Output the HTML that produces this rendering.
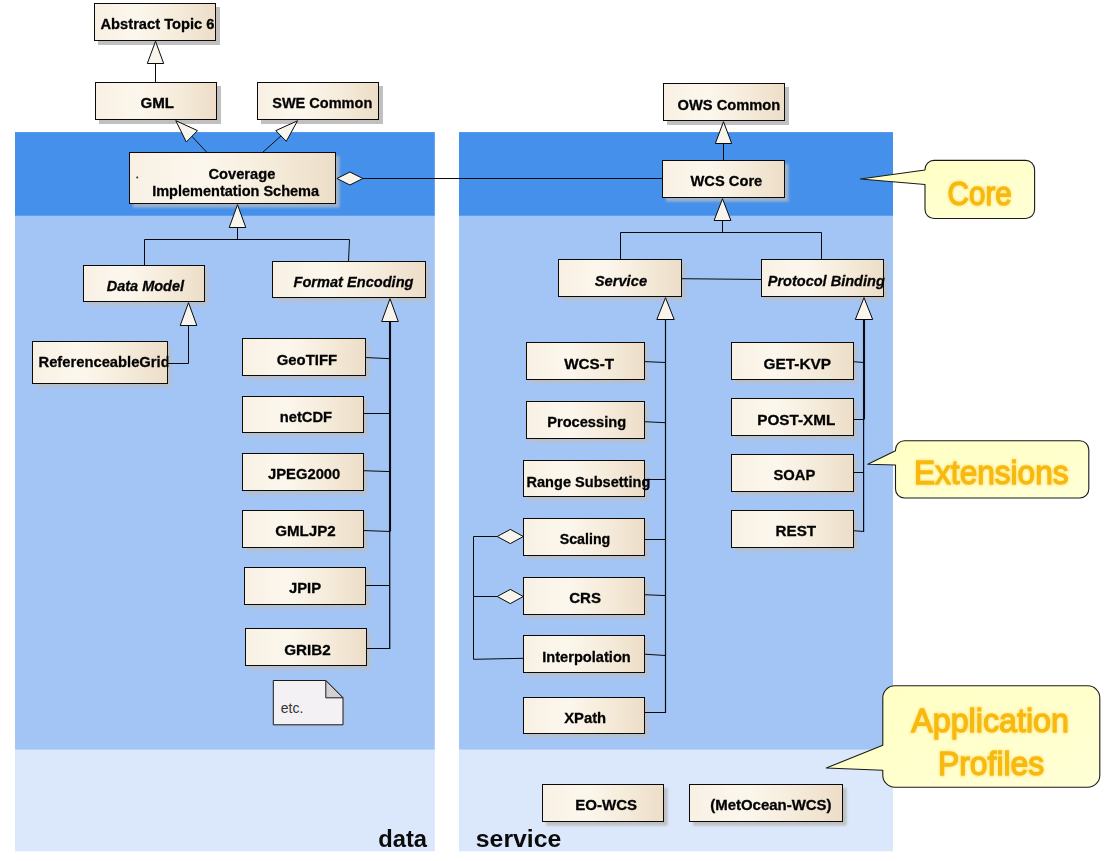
<!DOCTYPE html>
<html><head><meta charset="utf-8"><title>WCS</title>
<style>html,body{margin:0;padding:0;background:#fff;}svg{display:block;}text{font-family:"Liberation Sans",sans-serif;}.b{font-weight:bold;font-size:15.5px;fill:#000;stroke:#000;stroke-width:0.3;}.bi{font-weight:bold;font-style:italic;font-size:15.5px;fill:#000;stroke:#000;stroke-width:0.3;}.ln{stroke:#0a0a0a;stroke-width:1;fill:none;}.tri{stroke:#0a0a0a;stroke-width:1;fill:#f7f5ec;stroke-linejoin:miter;}.co{font-size:33.4px;fill:#f7b910;stroke:#f7b910;stroke-width:1.3;paint-order:stroke;stroke-linejoin:round;}</style></head><body>
<svg width="1109" height="861" viewBox="0 0 1109 861">
<defs>
<linearGradient id="bx" x1="0" y1="0" x2="1" y2="0"><stop offset="0" stop-color="#f8f0e3"/><stop offset="0.35" stop-color="#fcf7ed"/><stop offset="0.7" stop-color="#f5ebda"/><stop offset="1" stop-color="#ecddc7"/></linearGradient>
<linearGradient id="cl" x1="0" y1="0" x2="1" y2="1"><stop offset="0" stop-color="#ffffc2"/><stop offset="1" stop-color="#ffffd6"/></linearGradient>
<filter id="sh" x="-10%" y="-10%" width="130%" height="140%"><feGaussianBlur stdDeviation="0.9"/></filter>
<filter id="glow" x="-10%" y="-20%" width="120%" height="140%"><feGaussianBlur stdDeviation="1.2"/></filter>
</defs>
<rect width="1109" height="861" fill="#ffffff"/>
<rect x="15.0" y="132.1" width="419.8" height="83.8" fill="#4590ea"/>
<rect x="15.0" y="215.9" width="419.8" height="533.9" fill="#a3c5f6"/>
<rect x="15.0" y="749.8" width="419.8" height="101.5" fill="#dbe8fb"/>
<rect x="459.0" y="132.1" width="434.0" height="83.8" fill="#4590ea"/>
<rect x="459.0" y="215.9" width="434.0" height="533.9" fill="#a3c5f6"/>
<rect x="459.0" y="749.8" width="434.0" height="101.5" fill="#dbe8fb"/>
<rect x="98.0" y="7.0" width="122.0" height="38.0" fill="#c0c0c0"/>
<rect x="94.5" y="3.5" width="121.0" height="37.0" fill="url(#bx)" stroke="#0a0a0a" stroke-width="1"/>
<rect x="99.0" y="86.0" width="122.0" height="38.0" fill="#c0c0c0"/>
<rect x="95.5" y="82.5" width="121.0" height="37.0" fill="url(#bx)" stroke="#0a0a0a" stroke-width="1"/>
<rect x="261.0" y="86.0" width="122.0" height="38.0" fill="#c0c0c0"/>
<rect x="257.5" y="82.5" width="121.0" height="37.0" fill="url(#bx)" stroke="#0a0a0a" stroke-width="1"/>
<rect x="133.0" y="156.0" width="206.6" height="51.6" fill="#bebebe" opacity="0.72" filter="url(#sh)"/>
<rect x="129.5" y="152.5" width="206.0" height="51.0" fill="url(#bx)" stroke="#0a0a0a" stroke-width="1"/>
<rect x="87.0" y="269.0" width="121.6" height="36.6" fill="#bebebe" opacity="0.72" filter="url(#sh)"/>
<rect x="83.5" y="265.5" width="121.0" height="36.0" fill="url(#bx)" stroke="#0a0a0a" stroke-width="1"/>
<rect x="276.0" y="265.0" width="153.6" height="36.6" fill="#bebebe" opacity="0.72" filter="url(#sh)"/>
<rect x="272.5" y="261.5" width="153.0" height="36.0" fill="url(#bx)" stroke="#0a0a0a" stroke-width="1"/>
<rect x="36.0" y="345.0" width="135.6" height="42.6" fill="#bebebe" opacity="0.72" filter="url(#sh)"/>
<rect x="32.5" y="341.5" width="135.0" height="42.0" fill="url(#bx)" stroke="#0a0a0a" stroke-width="1"/>
<rect x="246.0" y="342.0" width="123.6" height="37.6" fill="#bebebe" opacity="0.72" filter="url(#sh)"/>
<rect x="242.5" y="338.5" width="123.0" height="37.0" fill="url(#bx)" stroke="#0a0a0a" stroke-width="1"/>
<rect x="246.0" y="400.0" width="121.6" height="36.6" fill="#bebebe" opacity="0.72" filter="url(#sh)"/>
<rect x="242.5" y="396.5" width="121.0" height="36.0" fill="url(#bx)" stroke="#0a0a0a" stroke-width="1"/>
<rect x="246.0" y="457.0" width="121.6" height="37.6" fill="#bebebe" opacity="0.72" filter="url(#sh)"/>
<rect x="242.5" y="453.5" width="121.0" height="37.0" fill="url(#bx)" stroke="#0a0a0a" stroke-width="1"/>
<rect x="246.0" y="514.0" width="121.6" height="37.6" fill="#bebebe" opacity="0.72" filter="url(#sh)"/>
<rect x="242.5" y="510.5" width="121.0" height="37.0" fill="url(#bx)" stroke="#0a0a0a" stroke-width="1"/>
<rect x="248.0" y="571.0" width="121.6" height="37.6" fill="#bebebe" opacity="0.72" filter="url(#sh)"/>
<rect x="244.5" y="567.5" width="121.0" height="37.0" fill="url(#bx)" stroke="#0a0a0a" stroke-width="1"/>
<rect x="249.0" y="632.0" width="121.6" height="37.6" fill="#bebebe" opacity="0.72" filter="url(#sh)"/>
<rect x="245.5" y="628.5" width="121.0" height="37.0" fill="url(#bx)" stroke="#0a0a0a" stroke-width="1"/>
<rect x="667.0" y="87.0" width="122.0" height="38.0" fill="#c0c0c0"/>
<rect x="663.5" y="83.5" width="121.0" height="37.0" fill="url(#bx)" stroke="#0a0a0a" stroke-width="1"/>
<rect x="666.0" y="164.0" width="122.6" height="37.6" fill="#bebebe" opacity="0.72" filter="url(#sh)"/>
<rect x="662.5" y="160.5" width="122.0" height="37.0" fill="url(#bx)" stroke="#0a0a0a" stroke-width="1"/>
<rect x="562.0" y="263.0" width="123.6" height="37.6" fill="#bebebe" opacity="0.72" filter="url(#sh)"/>
<rect x="558.5" y="259.5" width="123.0" height="37.0" fill="url(#bx)" stroke="#0a0a0a" stroke-width="1"/>
<rect x="765.0" y="263.0" width="122.6" height="37.6" fill="#bebebe" opacity="0.72" filter="url(#sh)"/>
<rect x="761.5" y="259.5" width="122.0" height="37.0" fill="url(#bx)" stroke="#0a0a0a" stroke-width="1"/>
<rect x="530.0" y="346.0" width="118.6" height="37.6" fill="#bebebe" opacity="0.72" filter="url(#sh)"/>
<rect x="526.5" y="342.5" width="118.0" height="37.0" fill="url(#bx)" stroke="#0a0a0a" stroke-width="1"/>
<rect x="530.0" y="405.0" width="118.6" height="37.6" fill="#bebebe" opacity="0.72" filter="url(#sh)"/>
<rect x="526.5" y="401.5" width="118.0" height="37.0" fill="url(#bx)" stroke="#0a0a0a" stroke-width="1"/>
<rect x="527.0" y="464.0" width="121.6" height="36.6" fill="#bebebe" opacity="0.72" filter="url(#sh)"/>
<rect x="523.5" y="460.5" width="121.0" height="36.0" fill="url(#bx)" stroke="#0a0a0a" stroke-width="1"/>
<rect x="527.0" y="522.0" width="121.6" height="37.6" fill="#bebebe" opacity="0.72" filter="url(#sh)"/>
<rect x="523.5" y="518.5" width="121.0" height="37.0" fill="url(#bx)" stroke="#0a0a0a" stroke-width="1"/>
<rect x="527.0" y="581.0" width="121.6" height="37.6" fill="#bebebe" opacity="0.72" filter="url(#sh)"/>
<rect x="523.5" y="577.5" width="121.0" height="37.0" fill="url(#bx)" stroke="#0a0a0a" stroke-width="1"/>
<rect x="527.0" y="639.0" width="121.6" height="37.6" fill="#bebebe" opacity="0.72" filter="url(#sh)"/>
<rect x="523.5" y="635.5" width="121.0" height="37.0" fill="url(#bx)" stroke="#0a0a0a" stroke-width="1"/>
<rect x="527.0" y="701.0" width="121.6" height="36.6" fill="#bebebe" opacity="0.72" filter="url(#sh)"/>
<rect x="523.5" y="697.5" width="121.0" height="36.0" fill="url(#bx)" stroke="#0a0a0a" stroke-width="1"/>
<rect x="735.0" y="346.0" width="122.6" height="37.6" fill="#bebebe" opacity="0.72" filter="url(#sh)"/>
<rect x="731.5" y="342.5" width="122.0" height="37.0" fill="url(#bx)" stroke="#0a0a0a" stroke-width="1"/>
<rect x="735.0" y="402.0" width="122.6" height="37.6" fill="#bebebe" opacity="0.72" filter="url(#sh)"/>
<rect x="731.5" y="398.5" width="122.0" height="37.0" fill="url(#bx)" stroke="#0a0a0a" stroke-width="1"/>
<rect x="735.0" y="458.0" width="122.6" height="37.6" fill="#bebebe" opacity="0.72" filter="url(#sh)"/>
<rect x="731.5" y="454.5" width="122.0" height="37.0" fill="url(#bx)" stroke="#0a0a0a" stroke-width="1"/>
<rect x="735.0" y="514.0" width="122.6" height="37.6" fill="#bebebe" opacity="0.72" filter="url(#sh)"/>
<rect x="731.5" y="510.5" width="122.0" height="37.0" fill="url(#bx)" stroke="#0a0a0a" stroke-width="1"/>
<rect x="546.0" y="788.0" width="121.6" height="37.6" fill="#bebebe" opacity="0.95" filter="url(#sh)"/>
<rect x="542.5" y="784.5" width="121.0" height="37.0" fill="url(#bx)" stroke="#0a0a0a" stroke-width="1"/>
<rect x="693.0" y="788.0" width="153.6" height="37.6" fill="#bebebe" opacity="0.95" filter="url(#sh)"/>
<rect x="689.5" y="784.5" width="153.0" height="37.0" fill="url(#bx)" stroke="#0a0a0a" stroke-width="1"/>
<path d="M275.8 683 L328.3 683 L345.5 700.3 L345.5 727.3 L275.8 727.3 Z" fill="#bcbcbc" opacity="0.3" filter="url(#sh)"/>
<path d="M273.3 680.5 L325.8 680.5 L343 697.8 L343 724.8 L273.3 724.8 Z" fill="#f4f1f4" stroke="#1a1a1a" stroke-width="1"/>
<path d="M325.8 680.5 L325.8 697.8 L343 697.8 Z" fill="#d2d0d2" stroke="#1a1a1a" stroke-width="1"/>
<text x="280.8" y="713" style="font-size:14.2px;fill:#333" textLength="22.5" lengthAdjust="spacingAndGlyphs">etc.</text>
<path class="ln" d="M155.5 63.5 L155.5 82.5"/>
<path class="tri" d="M155.5 41.3 L163.7 63.5 L147.3 63.5 Z"/>
<path class="ln" d="M207 152.5 L191.9 136.3"/>
<path class="tri" d="M175.8 120.7 L197.5 130.6 L186.3 142 Z"/>
<path class="ln" d="M262.5 152.5 L281 135.9"/>
<path class="tri" d="M297.5 120.8 L286.3 141.3 L275.8 130.6 Z"/>
<path class="tri" d="M336.9 178.5 L349.9 172.0 L362.9 178.5 L349.9 185.0 Z"/>
<path class="ln" d="M362.9 178.5 L662.5 178.5"/>
<path class="tri" d="M237.5 204.7 L245.8 227.5 L229.2 227.5 Z"/>
<path class="ln" d="M237.5 227.5 L237.5 239.5"/>
<path class="ln" d="M144.5 265.5 L144.5 239.5 L349.5 239.5 L348.5 261.5"/>
<path class="tri" d="M188.5 302.7 L196.8 325.5 L180.2 325.5 Z"/>
<path class="ln" d="M188.5 325.5 L188.5 363.5 L167.5 363.5"/>
<path class="tri" d="M390 298.7 L398.3 321.5 L381.7 321.5 Z"/>
<path class="ln" d="M390 321.5 L390 531.5" style="stroke-width:2.1"/>
<path class="ln" d="M389.7 531 L389.7 649" style="stroke-width:1.3"/>
<path class="ln" d="M365.5 357.5 L390 358.7"/>
<path class="ln" d="M363.5 413.5 L390 413.5"/>
<path class="ln" d="M363.5 470.7 L390 471.6"/>
<path class="ln" d="M363.5 530.5 L390 531.5"/>
<path class="ln" d="M365.5 585.5 L390 585.5"/>
<path class="ln" d="M366.5 648.5 L390 648.5"/>
<path class="tri" d="M723.5 121.7 L731.7 143.5 L715.3 143.5 Z"/>
<path class="ln" d="M723.5 143.5 L723.5 160.5"/>
<path class="tri" d="M722.5 198.7 L730.9 220.5 L714.1 220.5 Z"/>
<path class="ln" d="M722.5 220.5 L722.5 232.5"/>
<path class="ln" d="M620.5 259.5 L620.5 232.5 L821.5 232.5 L821.5 259.5"/>
<path class="ln" d="M681.5 278.7 L761.5 279.5"/>
<path class="tri" d="M665.5 297.7 L674.2 319.5 L656.8 319.5 Z"/>
<path class="ln" d="M665.5 319.5 L665.5 713" style="stroke-width:1.2"/>
<path class="ln" d="M644.5 361.6 L665.5 362.5"/>
<path class="ln" d="M644.5 421.7 L665.5 422.7"/>
<path class="ln" d="M644.5 479.5 L665.5 479.5"/>
<path class="ln" d="M644.5 539.5 L665.5 539.5"/>
<path class="ln" d="M644.5 594.7 L665.5 595.6"/>
<path class="ln" d="M644.5 654.2 L665.5 655.5"/>
<path class="ln" d="M644.5 712.5 L665.5 712.5"/>
<path class="tri" d="M864 297.7 L872.7 319.5 L855.3 319.5 Z"/>
<path class="ln" d="M864 319.5 L864 419.5" style="stroke-width:2.1"/>
<path class="ln" d="M863.6 419 L863.6 532" style="stroke-width:1.2"/>
<path class="ln" d="M853.5 361.7 L864 362.5"/>
<path class="ln" d="M853.5 419.5 L864 419.5"/>
<path class="ln" d="M853.5 472.5 L864 472.5"/>
<path class="ln" d="M853.5 530.7 L864 531.5"/>
<path class="ln" d="M497.5 536.5 L473.5 536.5 L473.5 659.3 L523.5 658.3"/>
<path class="ln" d="M473.5 596.5 L497.5 596.5"/>
<path class="tri" d="M497.2 536.5 L510.3 529.4 L523.3 536.5 L510.3 543.6 Z"/>
<path class="tri" d="M497.2 596.5 L510.3 589.4 L523.3 596.5 L510.3 603.6 Z"/>
<g opacity="0.995">
<rect x="136.4" y="176.6" width="1.7" height="1.7" fill="#222"/>
<clipPath id="rgc"><rect x="30" y="340" width="138.4" height="46"/></clipPath>
<text class="b" x="38.5" y="367.1" textLength="131.2" lengthAdjust="spacingAndGlyphs" clip-path="url(#rgc)">ReferenceableGrid</text>
<text class="b" x="100.5" y="29.0" textLength="114.0" lengthAdjust="spacingAndGlyphs">Abstract Topic 6</text>
<text class="b" x="140.5" y="107.8" textLength="33.6" lengthAdjust="spacingAndGlyphs">GML</text>
<text class="b" x="272.2" y="107.8" textLength="100.1" lengthAdjust="spacingAndGlyphs">SWE Common</text>
<text class="b" x="208.5" y="178.6" textLength="66.8" lengthAdjust="spacingAndGlyphs">Coverage</text>
<text class="b" x="152.2" y="196.1" textLength="166.9" lengthAdjust="spacingAndGlyphs">Implementation Schema</text>
<text class="bi" x="106.7" y="291.0" textLength="77.4" lengthAdjust="spacingAndGlyphs">Data Model</text>
<text class="bi" x="293.5" y="287.3" textLength="120.0" lengthAdjust="spacingAndGlyphs">Format Encoding</text>
<text class="b" x="276.7" y="364.8" textLength="60.4" lengthAdjust="spacingAndGlyphs">GeoTIFF</text>
<text class="b" x="279.7" y="422.3" textLength="52.4" lengthAdjust="spacingAndGlyphs">netCDF</text>
<text class="b" x="268.0" y="479.1" textLength="72.3" lengthAdjust="spacingAndGlyphs">JPEG2000</text>
<text class="b" x="275.2" y="536.1" textLength="60.6" lengthAdjust="spacingAndGlyphs">GMLJP2</text>
<text class="b" x="289.0" y="593.1" textLength="32.1" lengthAdjust="spacingAndGlyphs">JPIP</text>
<text class="b" x="284.2" y="655.1" textLength="46.6" lengthAdjust="spacingAndGlyphs">GRIB2</text>
<text class="b" x="677.5" y="109.8" textLength="102.8" lengthAdjust="spacingAndGlyphs">OWS Common</text>
<text class="b" x="690.5" y="186.1" textLength="71.8" lengthAdjust="spacingAndGlyphs">WCS Core</text>
<text class="bi" x="594.7" y="286.1" textLength="52.4" lengthAdjust="spacingAndGlyphs">Service</text>
<text class="bi" x="767.7" y="286.1" textLength="117.1" lengthAdjust="spacingAndGlyphs">Protocol Binding</text>
<text class="b" x="564.2" y="369.1" textLength="49.9" lengthAdjust="spacingAndGlyphs">WCS-T</text>
<text class="b" x="547.2" y="427.3" textLength="78.9" lengthAdjust="spacingAndGlyphs">Processing</text>
<text class="b" x="526.5" y="486.6" textLength="123.8" lengthAdjust="spacingAndGlyphs">Range Subsetting</text>
<text class="b" x="559.7" y="544.1" textLength="50.6" lengthAdjust="spacingAndGlyphs">Scaling</text>
<text class="b" x="569.2" y="602.8" textLength="31.9" lengthAdjust="spacingAndGlyphs">CRS</text>
<text class="b" x="542.2" y="662.3" textLength="88.6" lengthAdjust="spacingAndGlyphs">Interpolation</text>
<text class="b" x="564.2" y="723.3" textLength="41.9" lengthAdjust="spacingAndGlyphs">XPath</text>
<text class="b" x="763.5" y="369.1" textLength="67.6" lengthAdjust="spacingAndGlyphs">GET-KVP</text>
<text class="b" x="757.2" y="425.3" textLength="78.1" lengthAdjust="spacingAndGlyphs">POST-XML</text>
<text class="b" x="773.5" y="480.3" textLength="41.8" lengthAdjust="spacingAndGlyphs">SOAP</text>
<text class="b" x="775.5" y="536.1" textLength="40.6" lengthAdjust="spacingAndGlyphs">REST</text>
<text class="b" x="575.2" y="810.1" textLength="61.9" lengthAdjust="spacingAndGlyphs">EO-WCS</text>
<text class="b" x="710.2" y="810.1" textLength="121.4" lengthAdjust="spacingAndGlyphs">(MetOcean-WCS)</text>
<text x="378.2" y="846.5" style="font-weight:bold;font-size:23.5px;fill:#0a0a0a" textLength="48.8" lengthAdjust="spacingAndGlyphs">data</text>
<text x="475.8" y="846.5" style="font-weight:bold;font-size:23.5px;fill:#0a0a0a" textLength="85.5" lengthAdjust="spacingAndGlyphs">service</text>
</g>
<path d="M934 160.4 L1025.6 160.4 A9 9 0 0 1 1034.6 169.4 L1034.6 209.5 A9 9 0 0 1 1025.6 218.5 L934 218.5 A9 9 0 0 1 925 209.5 L925 184.5 L860.3 179 L925 170 L925 169.4 A9 9 0 0 1 934 160.4 Z" fill="url(#cl)" stroke="#1a1a1a" stroke-width="1.1" stroke-linejoin="round"/>
<text x="947.6" y="204.7" textLength="64.1" lengthAdjust="spacingAndGlyphs" style="font-size:33.4px;fill:#ffe88a;stroke:#ffe88a;stroke-width:3" filter="url(#glow)">Core</text>
<text class="co" x="947.6" y="204.7" textLength="64.1" lengthAdjust="spacingAndGlyphs">Core</text>
<path d="M904.5 440.8 L1079.8 440.8 A9 9 0 0 1 1088.8 449.8 L1088.8 489 A9 9 0 0 1 1079.8 498 L904.5 498 A9 9 0 0 1 895.5 489 L895.5 465 L867.8 464.3 L895.5 450.8 L895.5 449.8 A9 9 0 0 1 904.5 440.8 Z" fill="url(#cl)" stroke="#1a1a1a" stroke-width="1.1" stroke-linejoin="round"/>
<text x="914" y="483.8" textLength="154.5" lengthAdjust="spacingAndGlyphs" style="font-size:33.4px;fill:#ffe88a;stroke:#ffe88a;stroke-width:3" filter="url(#glow)">Extensions</text>
<text class="co" x="914" y="483.8" textLength="154.5" lengthAdjust="spacingAndGlyphs">Extensions</text>
<path d="M894.8 685.8 L1087.8 685.8 A12 12 0 0 1 1099.8 697.8 L1099.8 775.2 A12 12 0 0 1 1087.8 787.2 L894.8 787.2 A12 12 0 0 1 882.8 775.2 L882.8 770.3 L826.3 768 L882.8 745.3 L882.8 697.8 A12 12 0 0 1 894.8 685.8 Z" fill="url(#cl)" stroke="#1a1a1a" stroke-width="1.1" stroke-linejoin="round"/>
<text x="911.2" y="731.5" textLength="157.8" lengthAdjust="spacingAndGlyphs" style="font-size:33.4px;fill:#ffe88a;stroke:#ffe88a;stroke-width:3" filter="url(#glow)">Application</text>
<text class="co" x="911.2" y="731.5" textLength="157.8" lengthAdjust="spacingAndGlyphs">Application</text>
<text x="938" y="774.5" textLength="106.2" lengthAdjust="spacingAndGlyphs" style="font-size:33.4px;fill:#ffe88a;stroke:#ffe88a;stroke-width:3" filter="url(#glow)">Profiles</text>
<text class="co" x="938" y="774.5" textLength="106.2" lengthAdjust="spacingAndGlyphs">Profiles</text>
</svg></body></html>
